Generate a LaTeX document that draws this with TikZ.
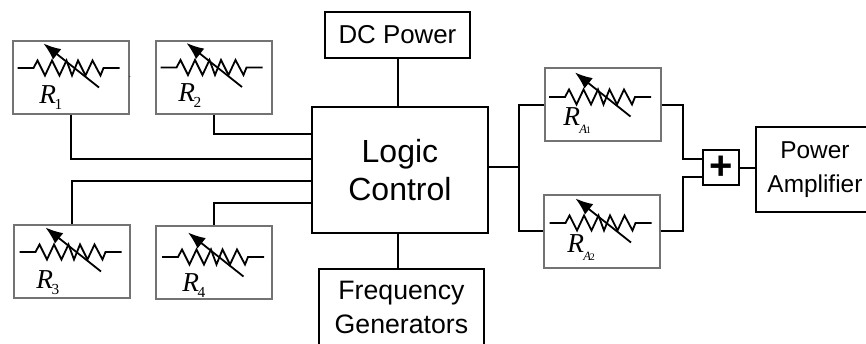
\documentclass[tikz,border=0pt]{standalone}
\usepackage{fontspec}
\setmainfont{Liberation Sans}
\newfontfamily\rfont{Liberation Serif}
\usetikzlibrary{arrows.meta}
\definecolor{boxgray}{gray}{0.45}
\newcommand{\Rsub}[1]{{\rfont\itshape\fontsize{20.5}{21}\selectfont R\kern-1pt\raisebox{-4.5pt}{\upshape\fontsize{11.5}{12}\selectfont #1}}}
\newcommand{\RAsub}[1]{{\rfont\itshape\fontsize{20.5}{21}\selectfont R\kern-0.5pt\raisebox{-6pt}{\fontsize{9.5}{10}\selectfont A\kern-0.8pt\upshape\fontsize{7.5}{8}\selectfont #1}}}
\tikzset{
  x=0.75pt,y=-0.75pt,
  wire/.style={draw=black,line width=1.5pt},
  rbox/.style={draw=boxgray,line width=1.5pt,inner sep=0pt,minimum width=87pt,minimum height=55pt,anchor=north west},
  bbox/.style={draw=black,line width=1.4pt,inner sep=0pt,align=center,anchor=north west},
  rlabel/.style={anchor=base west,inner sep=0pt},
  pics/rstor/.style={code={
    \draw[line width=1.35pt,line join=miter] (0,0)--(16,0)--(20,-7.5)--(27.5,7.5)--(34.5,-7.5)--(42,7.5)--(49,-7.5)--(54.5,7.5)--(60.5,-7.5)--(68,7.5)--(75,-7.5)--(83,7.5)--(86,0)--(102,0);
    \draw[line width=1.35pt,-{Latex[length=13pt,width=10pt]}] (81.5,19.5)--(26,-24.5);
  }}
}
\begin{document}
\begin{tikzpicture}
\useasboundingbox (0,0) rectangle (866,343);
% resistor boxes
\node[rbox] (r1) at (12,40) {};
\node[rbox] (r2) at (154.5,40) {};
\node[rbox] (r3) at (12.5,223.5) {};
\node[rbox] (r4) at (154.5,225) {};
\node[rbox] (ra1) at (543.5,67) {};
\node[rbox] (ra2) at (542.5,193.5) {};
\pic at (17.5,68) {rstor};
\pic at (160.5,67.5) {rstor};
\pic at (19.5,252) {rstor};
\pic at (162,257) {rstor};
\pic at (549,97) {rstor};
\pic at (549.5,223) {rstor};
\node[rlabel] (l1) at (39,103) {\Rsub{1}};
\node[rlabel] (l2) at (178,101) {\Rsub{2}};
\node[rlabel] (l3) at (36,288) {\Rsub{3}};
\node[rlabel] (l4) at (182,291) {\Rsub{4}};
\node[rlabel] (la1) at (563,125) {\RAsub{1}};
\node[rlabel] (la2) at (567,252) {\RAsub{2}};
\node[inner sep=0pt,anchor=base] (dot) at (130,77) {\fontsize{6}{6}\selectfont .};
% black boxes
\node[bbox,minimum width=132pt,minimum height=94.5pt,font=\fontsize{24}{29}\selectfont] (lc) at (311,106) {Logic\\Control};
\node[bbox,minimum width=108.75pt,minimum height=34.5pt,font=\fontsize{19.4}{24}\selectfont] (dc) at (324,11) {DC Power};
\node[bbox,minimum width=123.75pt,minimum height=58pt,font=\fontsize{20}{25.5}\selectfont] (fg) at (318,268) {Frequency\\Generators};
\node[bbox,minimum width=27pt,minimum height=26.5pt,font=\fontsize{30}{30}\selectfont\bfseries] (plus) at (702,149) {+};
\node[bbox,minimum width=88.5pt,minimum height=64pt,font=\fontsize{18.3}{25.5}\selectfont] (pa) at (755,126) {Power\\Amplifier};
% named junctions
\coordinate (j) at (519,167);
\coordinate (jr) at (683,167);
\coordinate (bus) at (398,0);
\coordinate (lc1) at (311,134);
\coordinate (lc2) at (311,159);
\coordinate (lc3) at (311,181);
\coordinate (lc4) at (311,202.5);
\coordinate (p1) at (702,159);
\coordinate (p2) at (702,177);
% connectors
\draw[wire] (r1.south) |- (lc2);
\draw[wire] (r2.south) |- (lc1);
\draw[wire] (r3.north) |- (lc3);
\draw[wire] (r4.north) |- (lc4);
\draw[wire] (bus |- dc.south) -- (bus |- lc.north);
\draw[wire] (bus |- fg.north) -- (bus |- lc.south);
\draw[wire] (lc.east |- j) -- (j);
\draw[wire] (ra1.west) -| (j) |- (ra2.west);
\draw[wire] (ra1.east) -| (jr |- p1) -- (p1);
\draw[wire] (ra2.east) -| (jr |- p2) -- (p2);
\draw[wire] (plus.east) -- (plus.east -| pa.west);
\end{tikzpicture}
\end{document}
